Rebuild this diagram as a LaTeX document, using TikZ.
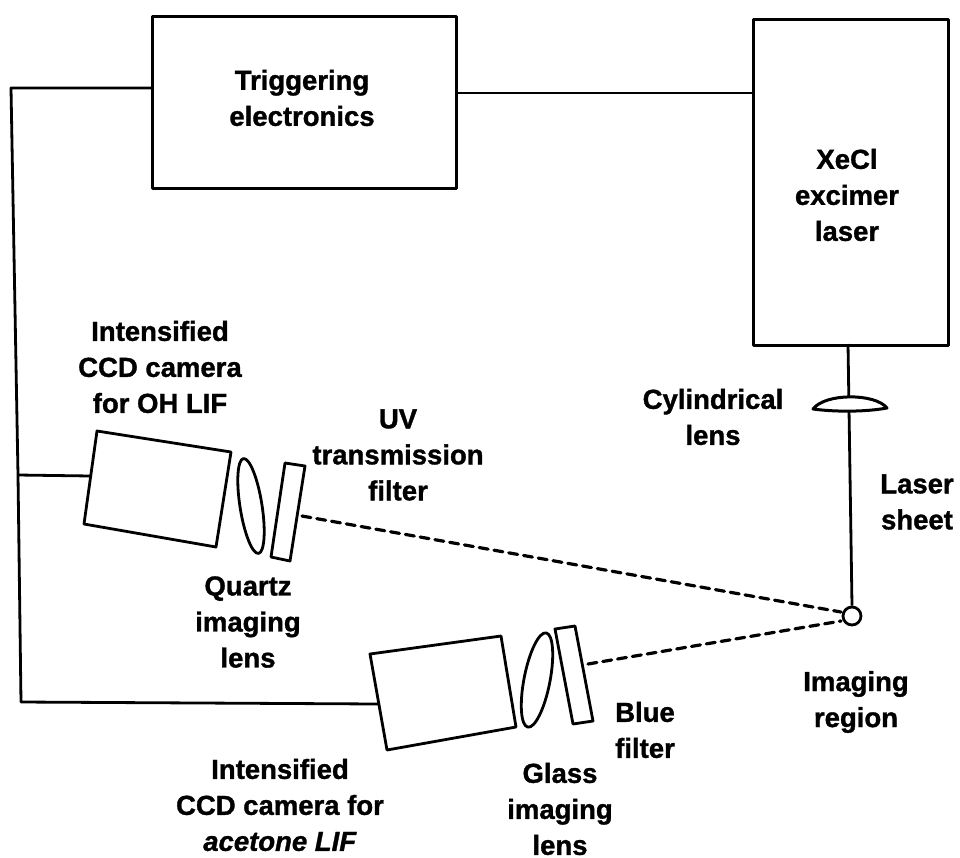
\documentclass[tikz,border=0pt]{standalone}
\usepackage{fontspec}
\setmainfont[BoldFeatures={FakeBold=1.2},BoldItalicFeatures={FakeBold=1.2}]{Liberation Sans}
\begin{document}
\begin{tikzpicture}[x=1pt,y=-1pt,
  ln/.style={draw=black,line width=2.8pt,line join=round},
  lb/.style={font=\bfseries\fontsize{27.5}{36}\selectfont,align=center,text=black,inner sep=0},
  beam/.style={draw=black,line width=3.2pt,dash pattern=on 9pt off 6pt,line cap=round}]
\useasboundingbox (0,0) rectangle (960,857);
\fill[white] (0,0) rectangle (960,857);
\node[ln,minimum width=304pt,minimum height=172pt,anchor=north west,inner sep=0] (trig) at (151,15) {};
\node[lb] (ttrig) at (302,98) {Triggering\\electronics};
\node[ln,minimum width=195pt,minimum height=326pt,anchor=north west,inner sep=0] (laser) at (752,18) {};
\node[lb] (tlaser) at (847,195) {XeCl\\excimer\\laser};
\coordinate (t1) at (trig.east |- 0,93);
\draw[ln] (t1) -- (t1 -| laser.west);
% cameras
\draw[ln] (97,431) -- (231,452) -- (216,547) -- (84,524) -- cycle;
\draw[ln] (370,654) -- (501,636) -- (516,727) -- (387,750) -- cycle;
\coordinate (c1) at (91,476);
\coordinate (c2) at (379,704);
\coordinate (w1) at (151,88);
\coordinate (w2) at (11,88);
\coordinate (w3) at (18,475);
\coordinate (w4) at (21,702);
\draw[ln] (w1) -- (w2) -- (w3) -- (w4) -- (c2);
\draw[ln] (w3) -- (c1);
% lenses
\draw[ln,rotate around={9:(251,506)}] (251,506) ellipse (11pt and 48pt);
\draw[ln] (285,463) -- (305,466) -- (290,561) -- (271,557) -- cycle;
\draw[ln,rotate around={-11:(537,680)}] (537,680) ellipse (13pt and 48pt);
\draw[ln] (555,629) -- (575,626) -- (593,721) -- (573,724) -- cycle;
% laser sheet
\node[ln,circle,minimum size=18pt,inner sep=0,fill=white] (reg) at (852,616) {};
\coordinate (ls) at (848,344);
\draw[ln] (ls) -- (reg.north);
\draw[ln,fill=white,line width=3pt] (813,409) .. controls (825,393) and (875,393) .. (887,408) .. controls (865,412) and (835,412) .. cycle;
\coordinate (b1) at (302,516);
\coordinate (b2) at (588,664);
\coordinate (e1) at (841,612);
\coordinate (e2) at (841,621);
\draw[beam] (b1) -- (e1);
\draw[beam] (b2) -- (e2);
% labels
\node[lb] (a) at (160,367) {Intensified\\CCD camera\\for OH LIF};
\node[lb] (b) at (398,455) {UV\\transmission\\filter};
\node[lb] (c) at (248,622) {Quartz\\imaging\\lens};
\node[lb] (d) at (713,417) {Cylindrical\\lens};
\node[lb] (e) at (917,502) {Laser\\sheet};
\node[lb] (f) at (856,702) {Imaging\\region};
\node[lb] (g) at (645,730) {Blue\\filter};
\node[lb] (h) at (560,809) {Glass\\imaging\\lens};
\node[lb] (i) at (280,805) {Intensified\\CCD camera for\\\textit{acetone LIF}};
\end{tikzpicture}
\end{document}
